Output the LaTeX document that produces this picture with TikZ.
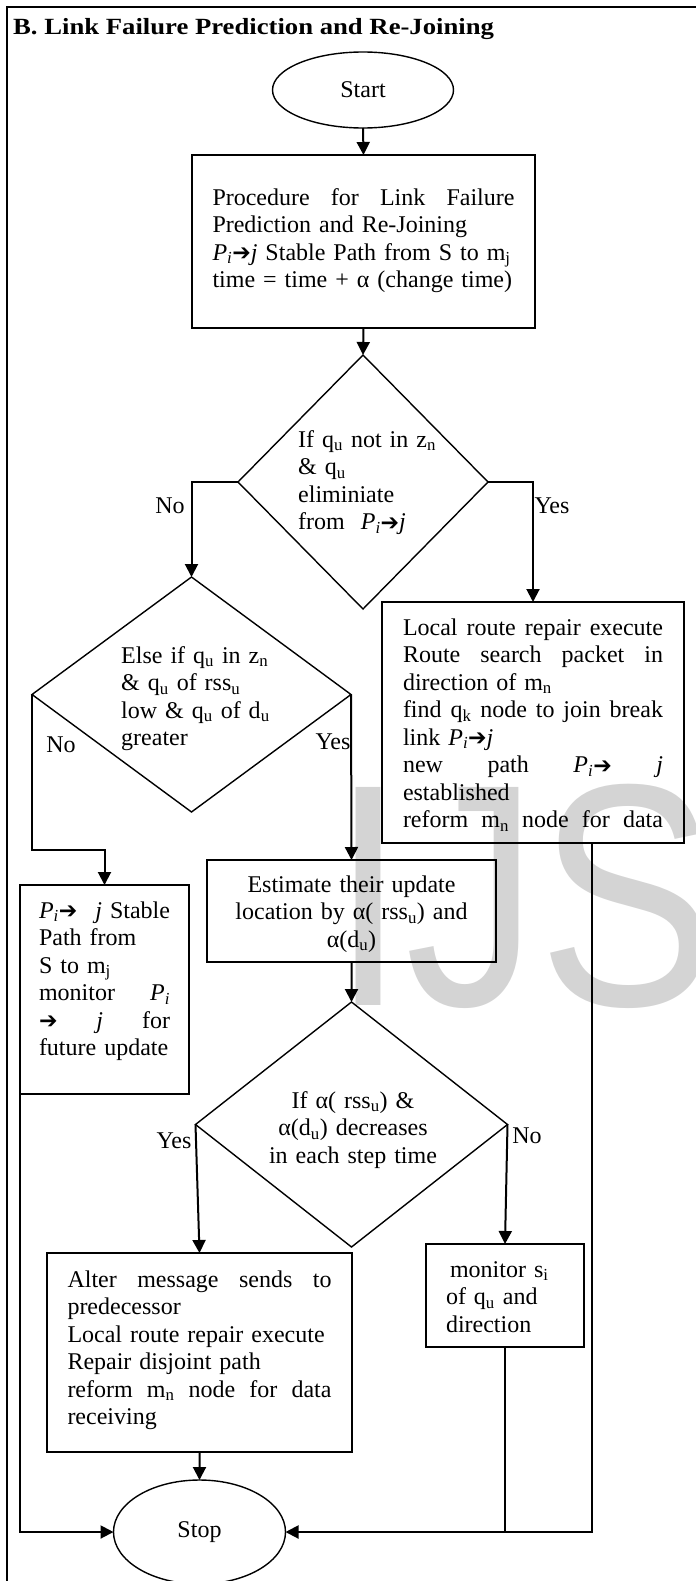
\documentclass[tikz,border=0pt]{standalone}
\usepackage{fontspec}
\setmainfont{Liberation Serif}
\newfontfamily\arrowfam{DejaVu Sans}
\newfontfamily\wmfam{Liberation Sans}
\usepackage{graphicx}
\usetikzlibrary{shapes.geometric,arrows.meta,calc}
\newcommand\sbs[1]{\textsubscript{#1}}
\newcommand\parr{{\arrowfam\raisebox{-0.5bp}{\scalebox{0.92}[0.95]{➔}}}}
\newcommand\PA{\textit{P}\sbs{\textit{i}}\parr}
\newcommand\J[2]{\leavevmode\hbox to #1{#2}}
\newcommand\bodyfont{\fontsize{24bp}{27.5bp}\selectfont\hyphenpenalty=10000\relax}
\tikzset{
  shp/.style={draw, line width=1.4bp, outer sep=0pt},
  box/.style={shp, rectangle, anchor=north west, inner ysep=0pt, align=left},
  dia/.style={shp, diamond, inner sep=0pt},
  term/.style={shp, ellipse, inner sep=0pt},
  txt/.style={inner sep=0pt, align=left},
  lbl/.style={inner sep=0pt},
  conn/.style={line width=2bp},
  arr/.style={conn, -{Triangle[length=13bp,width=13bp]}},
}
\begin{document}
\begin{tikzpicture}[x=1bp, y=-1bp, font=\bodyfont]
\useasboundingbox (0,0) rectangle (696,1581);
% watermark
\node[inner sep=0pt, anchor=base west, text=black!17, font=\wmfam\fontsize{317bp}{317bp}\selectfont] (wm) at (331,1005) {\scalebox{0.84}[1]{IJS}};
% frame
\draw[line width=1.6bp] (7,1581) -- (7,7) -- (696,7);
% title
\node[inner sep=0pt, anchor=base west] (title) at (13,35) {\scalebox{1.15}[1]{\fontsize{23.2bp}{27bp}\selectfont\bfseries B. Link Failure Prediction and Re-Joining}};
% start
\node[term, minimum width=181bp, minimum height=76bp] (start) at (363,90) {Start};
% box1
\node[box, text width=302bp, inner xsep=20.5bp, text height=50bp, text depth=123bp] (box1) at (192,155) {%
\J{302bp}{Procedure\hfill for\hfill Link\hfill Failure}\\
Prediction and Re-Joining\\
\PA\textit{j} Stable Path from S to m\sbs{j}\\
time = time + α (change time)};
% diamond 1
\node[dia, minimum width=250bp, minimum height=254bp] (d1) at (363,482) {};
\node[txt, text width=170bp, anchor=base west] (d1t) at (298,447) {%
If q\sbs{u} not in z\sbs{n}\\
\& q\sbs{u}\\
eliminiate\\
from\ \ \PA\textit{j}};
\node[lbl] (no1) at (170,506) {No};
\node[lbl] (yes1) at (552,506) {Yes};
% box2
\node[box, text width=260bp, inner xsep=21bp, text height=33bp, text depth=208bp] (box2) at (382,602) {%
\J{260bp}{Local\hfill route\hfill repair\hfill execute}\\
\J{260bp}{Route\hfill search\hfill packet\hfill in}\\
direction of m\sbs{n}\\
\J{260bp}{find\hfill q\sbs{k}\hfill node\hfill to\hfill join\hfill break}\\
link \PA\textit{j}\\
\J{260bp}{new\hfill path\hfill \PA\hfill \textit{j}}\\
established\\
\J{260bp}{reform\hfill m\sbs{n}\hfill node\hfill for\hfill data}};
% diamond 2
\node[dia, minimum width=319bp, minimum height=235bp] (d2) at (191.5,694.5) {};
\node[txt, text width=220bp, anchor=base west] (d2t) at (121,663) {%
Else if q\sbs{u} in z\sbs{n}\\
\& q\sbs{u} of rss\sbs{u}\\
low \& q\sbs{u} of d\sbs{u}\\
greater};
\node[lbl] (no2) at (61,745) {No};
\node[lbl] (yes2) at (333,742) {Yes};
% box3
\node[box, text width=131bp, inner xsep=19bp, text height=33bp, text depth=176bp] (box3) at (20,885) {%
\J{131bp}{\PA\hfill\textit{j} Stable}\\
Path from\\
S to m\sbs{j}\\
\J{131bp}{monitor\hfill\textit{P}\sbs{\textit{i}}}\\
\J{131bp}{\parr\hfill\textit{j}\hfill for}\\
\mbox{future update}};
% box4
\node[box, align=center, text width=249bp, inner xsep=20bp, text height=32bp, text depth=70bp] (box4) at (207,860) {%
Estimate their update\\
location by α( rss\sbs{u}) and\\
α(d\sbs{u})};
% diamond 3
\node[dia, minimum width=312bp, minimum height=245bp] (d3) at (351.5,1124.5) {};
\node[txt, align=center, text width=320bp, anchor=base] (d3t) at (353,1108) {%
If α( rss\sbs{u}) \&\\
α(d\sbs{u}) decreases\\
in each step time};
\node[lbl] (yes3) at (174,1141) {Yes};
\node[lbl] (no3) at (527,1136) {No};
% box5
\node[box, text width=264bp, inner xsep=20.5bp, text height=34bp, text depth=165bp] (box5) at (47,1253) {%
\J{264bp}{Alter\hfill message\hfill sends\hfill to}\\
predecessor\\
Local route repair execute\\
Repair disjoint path\\
\J{264bp}{reform\hfill m\sbs{n}\hfill node\hfill for\hfill data}\\
receiving};
% box6
\node[box, text width=118bp, inner xsep=20bp, text height=33bp, text depth=70bp] (box6) at (426,1244) {%
\hspace*{4bp}monitor s\sbs{i}\\
of q\sbs{u} and\\
direction};
% stop
\node[term, minimum width=172bp, minimum height=104bp] (stop) at (199.5,1532) {Stop};
% connectors
\draw[arr] (start.south) -- (box1.north);
\draw[arr] (box1.south) -- (d1.north);
\draw[arr] (d1.west) -| (d2.north);
\draw[arr] (d1.east) -| (box2.north);
\draw[arr] (d2.west) -- ++(0,155.5) -| (box3.north);
\draw[arr] (d2.east) -- (box4.north);
\draw[arr] (box4.south) -- (d3.north);
\draw[arr] (d3.west) -- (box5.north);
\draw[arr] (d3.east) -- (box6.north);
\draw[arr] (box5.south) -- (stop.north);
\draw[arr] (box3.south west) |- (stop.west);
\draw[arr] ([xshift=210bp]box2.south west) |- (stop.east);
\draw[conn] (box6.south) -- (box6.south |- stop.east);
\end{tikzpicture}
\end{document}
